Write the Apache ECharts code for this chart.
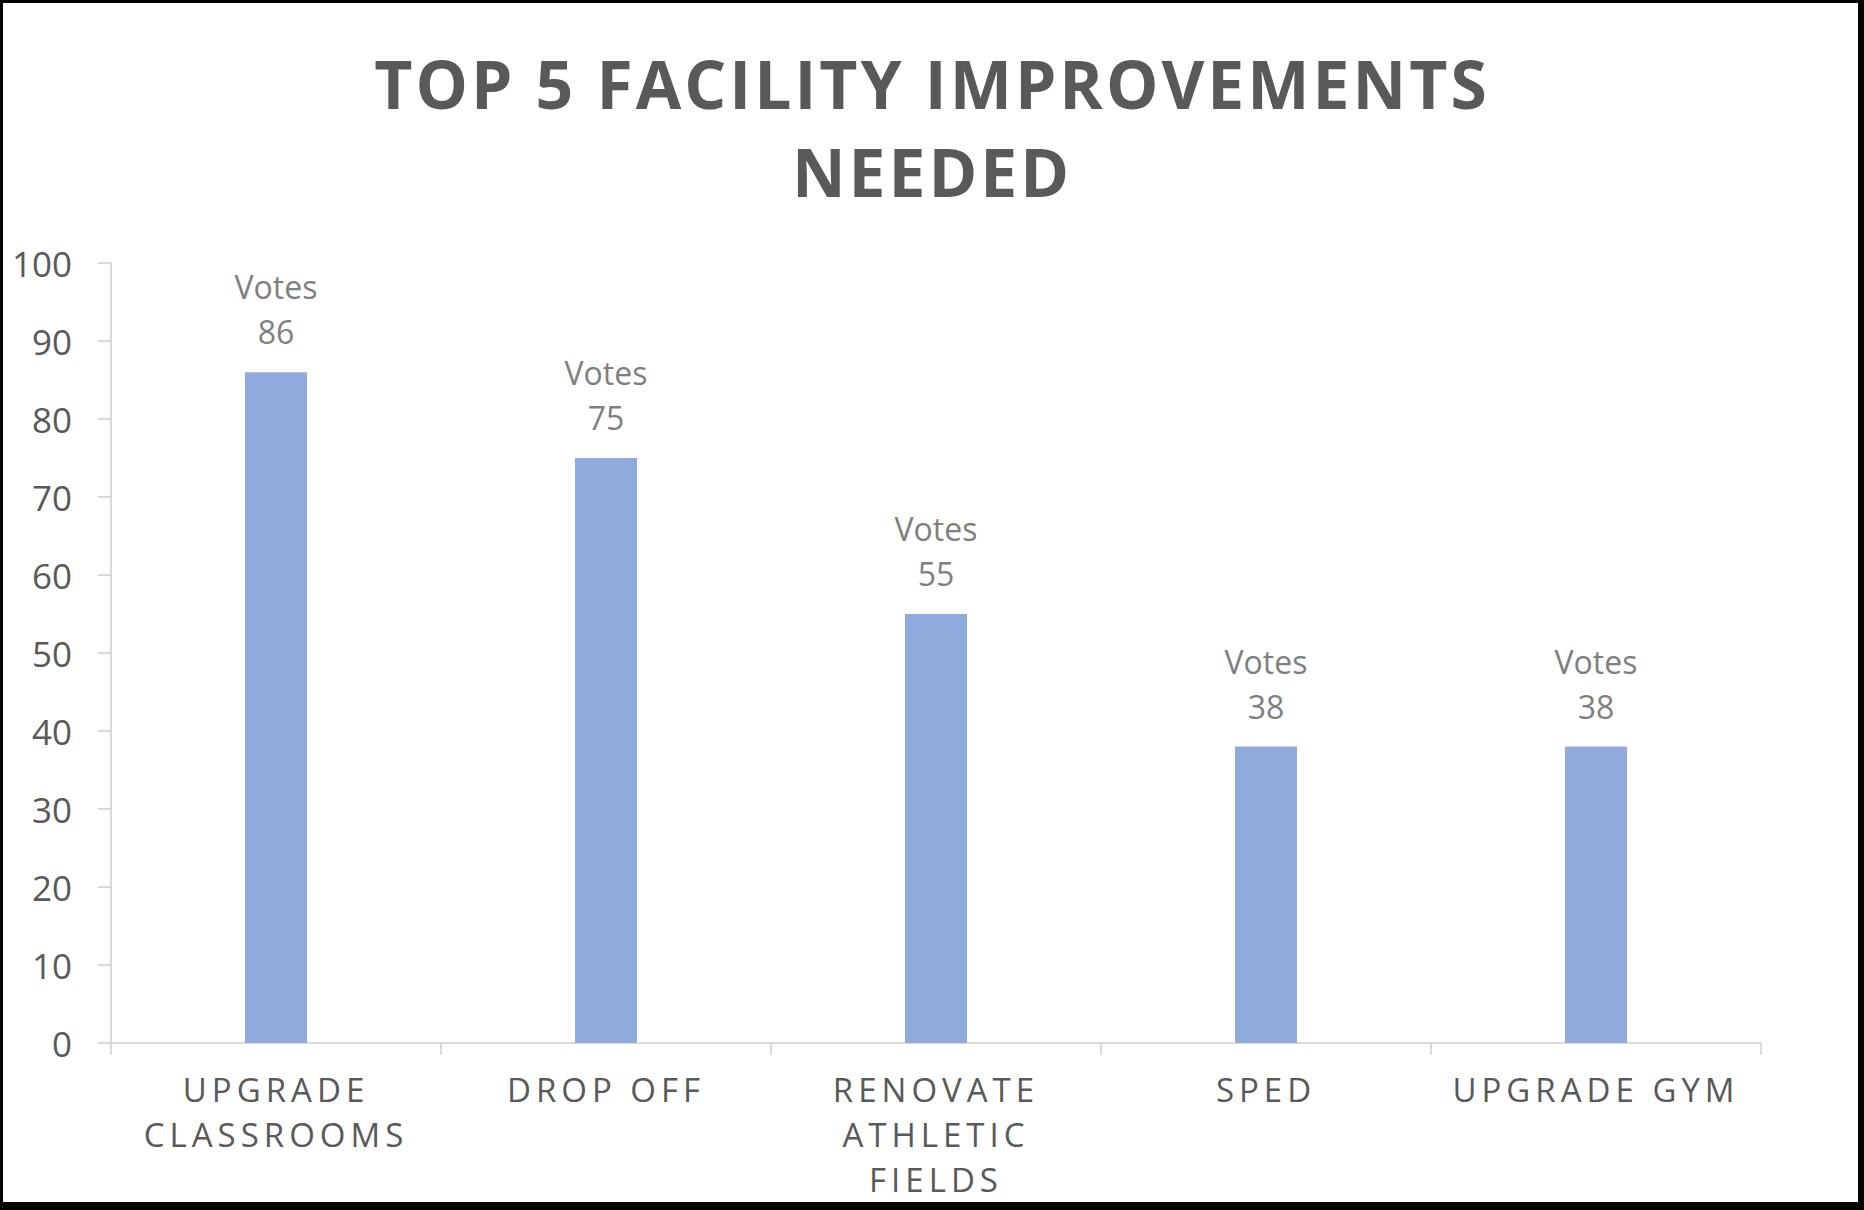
<!DOCTYPE html>
<html>
<head>
<meta charset="utf-8">
<script src="https://cdn.jsdelivr.net/npm/echarts@6/dist/echarts.min.js"></script>
<style>
  html, body { margin: 0; padding: 0; background: #fff; }
  #wrap { position: relative; width: 1864px; height: 1210px; overflow: hidden; }
  #chart { position: absolute; left: 0; top: 0; width: 1864px; height: 1210px; }
  #frame { position: absolute; left: 0; top: 0; width: 1864px; height: 1210px; box-sizing: border-box;
           border-style: solid; border-color: #000; border-width: 3px 6px 8px 3px; pointer-events: none; }
  #chart text[style*="33px"] { letter-spacing: 5px; }
  #chart text[style*="66px"] { letter-spacing: 3px; }
</style>
</head>
<body>
<div id="wrap">
  <div id="chart"></div>
  <div id="frame"></div>
</div>
<script>
const titleText = 'TOP 5 FACILITY IMPROVEMENTS\nNEEDED';
const categories = ['UPGRADE\nCLASSROOMS', 'DROP OFF', 'RENOVATE\nATHLETIC\nFIELDS', 'SPED', 'UPGRADE GYM'];
const seriesName = 'Votes';
const votes = [86, 75, 55, 38, 38];
const yTicks = [0, 10, 20, 30, 40, 50, 60, 70, 80, 90, 100];

const chart = echarts.init(document.getElementById('chart'), null, { renderer: 'svg' });
const FONT = 'Open Sans';
chart.setOption({
  animation: false,
  backgroundColor: '#ffffff',
  title: {
    text: titleText,
    left: 'center',
    top: 39,
    padding: 0,
    textStyle: {
      fontFamily: FONT,
      fontWeight: 'bold',
      fontSize: 66,
      lineHeight: 88,
      color: '#595959'
    }
  },
  grid: { left: 111, right: 103, top: 263, bottom: 167 },
  xAxis: {
    type: 'category',
    data: categories,
    boundaryGap: true,
    axisLine: { show: true, lineStyle: { color: '#d9d9d9', width: 2 } },
    axisTick: { show: true, length: 12, alignWithLabel: false, lineStyle: { color: '#d9d9d9', width: 2 } },
    axisLabel: {
      interval: 0,
      margin: 24,
      fontFamily: FONT,
      fontSize: 33,
      lineHeight: 45,
      color: '#595959'
    },
    splitLine: { show: false }
  },
  yAxis: {
    type: 'value',
    min: yTicks[0],
    max: yTicks[yTicks.length - 1],
    interval: yTicks[1] - yTicks[0],
    axisLine: { show: true, lineStyle: { color: '#d9d9d9', width: 2 } },
    axisTick: { show: true, length: 13, lineStyle: { color: '#d9d9d9', width: 2 } },
    axisLabel: {
      margin: 39,
      fontFamily: FONT,
      fontSize: 35,
      color: '#595959'
    },
    splitLine: { show: false }
  },
  series: [{
    name: seriesName,
    type: 'bar',
    data: votes,
    barWidth: 62,
    itemStyle: { color: '#8faadc' },
    label: {
      show: true,
      position: 'top',
      distance: 18,
      formatter: p => p.seriesName + '\n' + p.value,
      fontFamily: FONT,
      fontSize: 32,
      lineHeight: 45,
      color: '#7f7f7f'
    }
  }]
});
</script>
</body>
</html>
